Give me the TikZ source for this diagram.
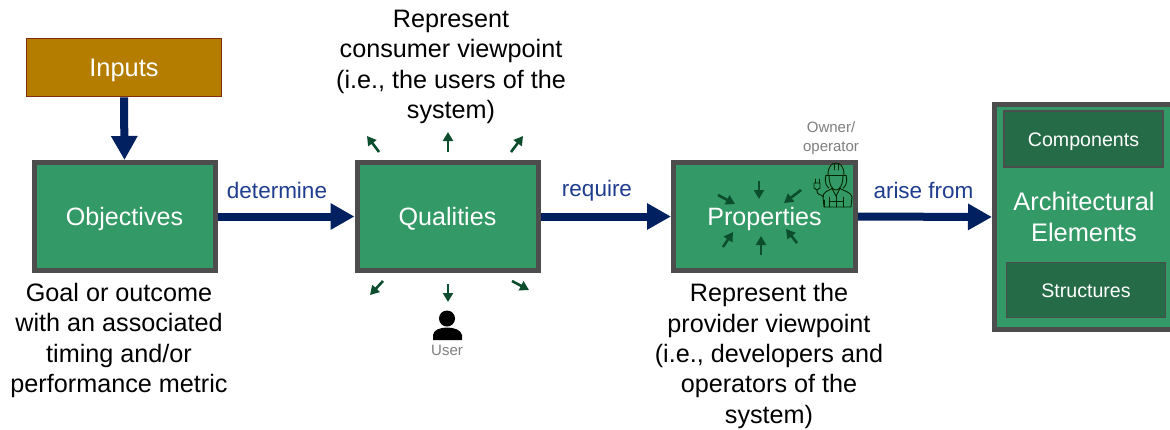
\documentclass[tikz,border=0pt]{standalone}
\usepackage{fontspec}
\setmainfont{Liberation Sans}
\usetikzlibrary{arrows.meta}
\definecolor{boxgreen}{HTML}{339966}
\definecolor{darkgreen}{HTML}{256B47}
\definecolor{edgegray}{HTML}{4D4D4D}
\definecolor{inputfill}{HTML}{B57D00}
\definecolor{inputedge}{HTML}{7F2F10}
\definecolor{navy}{HTML}{002060}
\definecolor{labelblue}{HTML}{1F3D8F}
\definecolor{smallarrow}{HTML}{0B4D2C}
\definecolor{graytext}{HTML}{7F7F7F}
\tikzset{
  x=1pt,y=-1pt,
  greenbox/.style={draw=edgegray,line width=5pt,fill=boxgreen,text=white,font=\fontsize{25.1}{31}\selectfont,inner sep=0pt,align=center},
  capline/.style={text height=18pt,text depth=0pt},
  inputbox/.style={draw=inputedge,line width=1.6pt,fill=inputfill,text=white,font=\fontsize{25.4}{31}\selectfont,inner sep=0pt,capline},
  innerbox/.style={draw=edgegray,line width=1.4pt,fill=darkgreen,text=white,font=\fontsize{19.6}{23}\selectfont,inner sep=0pt,text height=14pt,text depth=0pt},
  notetext/.style={text=black,font=\fontsize{25.2}{30.4}\selectfont,align=center,inner sep=0pt},
  flow/.style={draw=navy,line width=8pt,-{Triangle[length=24pt,width=25pt]}},
  flowlabel/.style={text=labelblue,font=\fontsize{22.5}{26}\selectfont,inner sep=0pt},
  tiny/.style={draw=smallarrow,line width=2.6pt,-{Triangle[length=9pt,width=10pt]}},
  rolelabel/.style={text=graytext,font=\fontsize{15}{19}\selectfont,align=center,inner sep=0pt},
  iconline/.style={draw=black!85!green,line width=0.9pt,line join=round,line cap=round},
}
\begin{document}
\begin{tikzpicture}
\useasboundingbox (0,0) rectangle (1170,429);
\fill[white] (0,0) rectangle (1170,429);

\node[inputbox,minimum width=195pt,minimum height=58pt] (inputs) at (124,67.5) {Inputs};
\node[greenbox,capline,minimum width=181pt,minimum height=108pt] (objectives) at (124.5,216.5) {Objectives};
\node[greenbox,capline,minimum width=181pt,minimum height=108pt] (qualities) at (447.5,216.5) {Qualities};
\node[greenbox,capline,minimum width=182pt,minimum height=108pt] (properties) at (764.5,216.5) {Properties};
\node[greenbox,font=\fontsize{25.4}{31}\selectfont,minimum width=179pt,minimum height=225pt] (arch) at (1084,217) {Architectural\\Elements};
\node[innerbox,minimum width=159pt,minimum height=56pt] (components) at (1083.5,139) {Components};
\node[innerbox,minimum width=159pt,minimum height=55pt] (structures) at (1086,290) {Structures};

\path[flow] (inputs.south) -- (objectives.north);
\path[flow] (objectives.east) -- (qualities.west);
\path[flow] (qualities.east) -- (properties.west);
\path[flow] (properties.east) -- (arch.west);

\node[flowlabel] (ldetermine) at (277,190.5) {determine};
\node[flowlabel] (lrequire) at (597,190.5) {require};
\node[flowlabel] (larise) at (923.5,190.5) {arise from};

\node[notetext] (noteq) at (451,67) {Represent\\consumer viewpoint\\(i.e., the users of the\\system)};
\node[notetext] (noteo) at (119,340.5) {Goal or outcome\\with an associated\\timing and/or\\performance metric};
\node[notetext] (notep) at (769,356) {Represent the\\provider viewpoint\\(i.e., developers and\\operators of the\\system)};

% small arrows around Qualities
\coordinate (qa1s) at (379,152); \coordinate (qa1e) at (367,136);
\coordinate (qa2s) at (448,152); \coordinate (qa2e) at (448,132);
\coordinate (qa3s) at (511,152); \coordinate (qa3e) at (523,136);
\coordinate (qb1s) at (383,281); \coordinate (qb1e) at (370,295);
\coordinate (qb2s) at (448,284); \coordinate (qb2e) at (448,302);
\coordinate (qb3s) at (512,281); \coordinate (qb3e) at (529,290);
\foreach \n in {qa1,qa2,qa3,qb1,qb2,qb3} \draw[tiny] (\n s) -- (\n e);

% small arrows converging on Properties
\coordinate (pa1s) at (718,195); \coordinate (pa1e) at (735,204);
\coordinate (pa2s) at (759,181); \coordinate (pa2e) at (759,199);
\coordinate (pa3s) at (801,190); \coordinate (pa3e) at (784,203);
\coordinate (pb1s) at (723,247); \coordinate (pb1e) at (733,232);
\coordinate (pb2s) at (761,255); \coordinate (pb2e) at (761,236);
\coordinate (pb3s) at (797,243); \coordinate (pb3e) at (786,229);
\foreach \n in {pa1,pa2,pa3,pb1,pb2,pb3} \draw[tiny] (\n s) -- (\n e);

% user icon
\fill[black] (447,318.5) circle (8pt);
\fill[black] (433,340) -- (433,335) .. controls (433.5,330) and (440,327.5) .. (447,327.5) .. controls (454,327.5) and (461,330) .. (462,335) -- (462,340) -- cycle;
\node[rolelabel] (user) at (447,350.5) {User};

% owner / operator icon
\node[rolelabel] (owner) at (831,138) {Owner/\\operator};
\draw[iconline] (828,175) .. controls (828,166) and (832,163) .. (836,163) .. controls (840,163) and (844,166) .. (844,175);
\draw[iconline] (826,175) -- (846,175);
\draw[iconline] (829,175) .. controls (829,186) and (833,190) .. (836,190) .. controls (839,190) and (843,186) .. (843,175);
\draw[iconline] (834,163.5) -- (834,170) (838,163.5) -- (838,170);
\draw[iconline] (826,175) .. controls (824,183) and (827,187) .. (829,188);
\draw[iconline] (846,175) .. controls (848,183) and (845,187) .. (843,188);
\draw[iconline] (824,207) -- (823,197) .. controls (823,192) and (828,191) .. (832,188.5) -- (836,196) -- (840,188.5) .. controls (844,191) and (851,192) .. (852,197) -- (851,207) -- cycle;
\draw[iconline] (829,197) -- (829,207) (843,197) -- (843,207) (829,201) -- (843,201);
\draw[iconline] (836,196) -- (836,207);
\draw[iconline] (815,183) -- (815,179) (819,183) -- (819,179);
\draw[iconline] (814,183) -- (820,183) -- (820,188) -- (817,190) -- (814,188) -- cycle;
\draw[iconline] (817,190) .. controls (817,197) and (822,193) .. (823,197);
\draw[iconline] (824,200) -- (824,207);
\end{tikzpicture}
\end{document}
